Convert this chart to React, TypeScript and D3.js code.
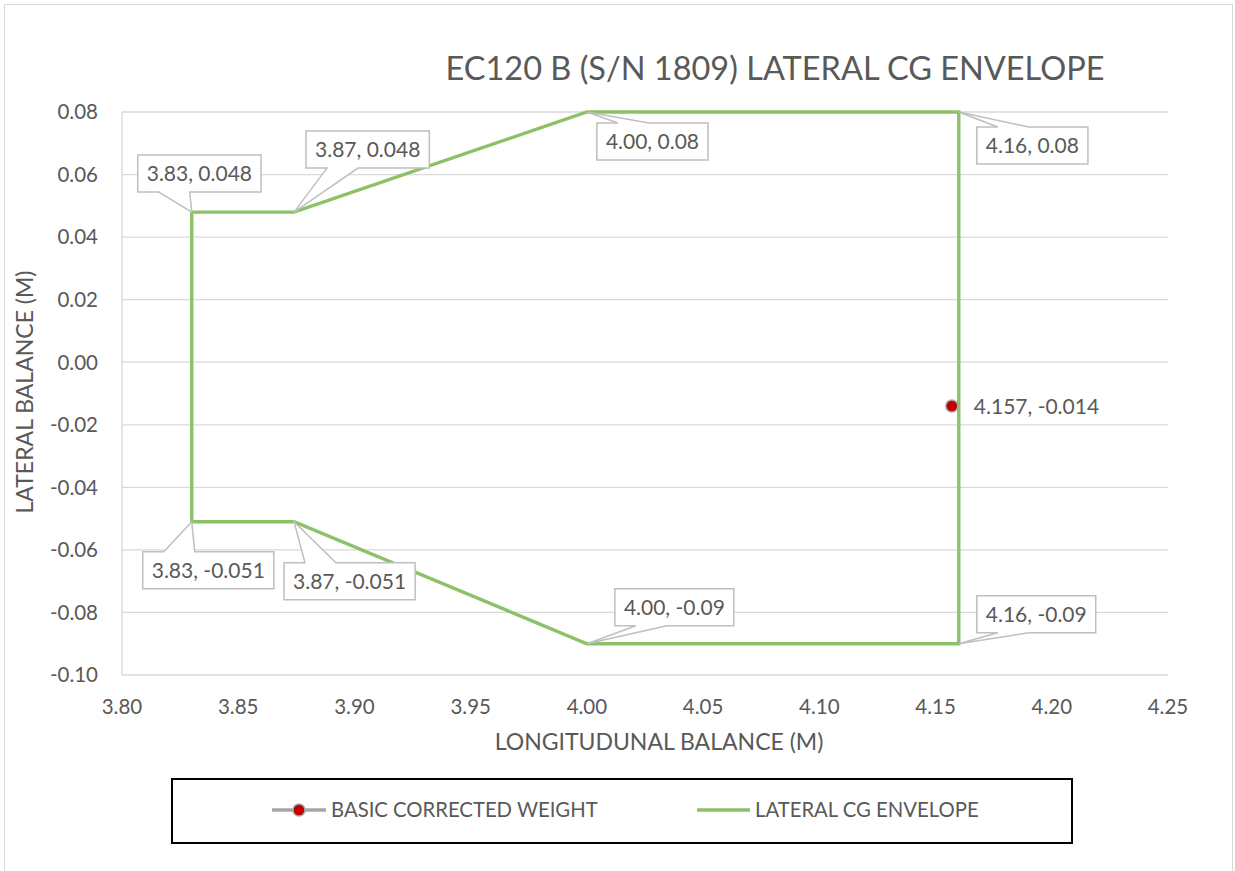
import { useEffect, useRef } from "react";
import * as d3 from "d3";

// envelope corners, closed loop
const envX = [3.83, 3.874, 4.0, 4.16, 4.16, 4.0, 3.874, 3.83, 3.83];
const envY = [0.048, 0.048, 0.08, 0.08, -0.09, -0.09, -0.051, -0.051, 0.048];

// basic corrected weight point
const cgX = [4.157];
const cgY = [-0.014];

const xTicks = [3.8, 3.85, 3.9, 3.95, 4.0, 4.05, 4.1, 4.15, 4.2, 4.25];
const yTicks = [-0.1, -0.08, -0.06, -0.04, -0.02, 0.0, 0.02, 0.04, 0.06, 0.08];

// callout placement for each envelope corner (box offset from point, pointer side)
const calloutPos = [
  { dx: -54, dy: -57, side: "bottom" },
  { dx: 12, dy: -81, side: "bottom" },
  { dx: 10, dy: 11, side: "top" },
  { dx: 18, dy: 15, side: "top" },
  { dx: 18, dy: -48, side: "bottom" },
  { dx: 28, dy: -55, side: "bottom" },
  { dx: -10, dy: 41, side: "top" },
  { dx: -49, dy: 30, side: "top" },
];

const FONT = "Lato, 'Open Sans', sans-serif";
const TXT = "#595959";
const GRID = "#d9d9d9";
const GREEN = "#8cc168";

export default function App() {
  const ref = useRef<SVGSVGElement | null>(null);

  useEffect(() => {
    drawChart();
  }, []);

  function drawChart() {
    const width = 1235,
      height = 871;
    const plot = { left: 122, right: 1168, top: 112, bottom: 675 };

    const svg = d3.select(ref.current);
    svg.selectAll("*").remove();

    svg.attr("width", width).attr("height", height);

    // chart frame
    svg.append("rect")
      .attr("x", 4.5).attr("y", 4.5)
      .attr("width", 1228).attr("height", 890)
      .attr("fill", "white")
      .attr("stroke", GRID);

    const x = d3.scaleLinear().domain([3.8, 4.25]).range([plot.left, plot.right]);
    const y = d3.scaleLinear().domain([-0.1, 0.08]).range([plot.bottom, plot.top]);

    // horizontal gridlines
    svg.append("g")
      .selectAll("line")
      .data(yTicks)
      .join("line")
      .attr("x1", plot.left).attr("x2", plot.right)
      .attr("y1", (d) => y(d)).attr("y2", (d) => y(d))
      .attr("stroke", GRID).attr("stroke-width", 1.3);

    // left axis line
    svg.append("line")
      .attr("x1", plot.left).attr("x2", plot.left)
      .attr("y1", plot.top).attr("y2", plot.bottom)
      .attr("stroke", GRID).attr("stroke-width", 1.3);

    // tick labels
    svg.append("g")
      .selectAll("text")
      .data(yTicks)
      .join("text")
      .attr("x", 98).attr("y", (d) => y(d))
      .attr("dy", "0.36em")
      .attr("text-anchor", "end")
      .attr("font-family", FONT).attr("font-size", 20.5)
      .attr("fill", TXT)
      .text((d) => d.toFixed(2));

    svg.append("g")
      .selectAll("text")
      .data(xTicks)
      .join("text")
      .attr("x", (d) => x(d)).attr("y", 714)
      .attr("text-anchor", "middle")
      .attr("font-family", FONT).attr("font-size", 20.5)
      .attr("fill", TXT)
      .text((d) => d.toFixed(2));

    // title
    svg.append("text")
      .attr("x", 775).attr("y", 80)
      .attr("text-anchor", "middle")
      .attr("font-family", FONT).attr("font-size", 32.5)
      .attr("fill", TXT)
      .text("EC120 B (S/N 1809) LATERAL CG ENVELOPE");

    // axis titles
    svg.append("text")
      .attr("x", 659).attr("y", 750)
      .attr("text-anchor", "middle")
      .attr("font-family", FONT).attr("font-size", 23)
      .attr("fill", TXT)
      .text("LONGITUDUNAL BALANCE (M)");

    svg.append("text")
      .attr("transform", "translate(33,392) rotate(-90)")
      .attr("text-anchor", "middle")
      .attr("font-family", FONT).attr("font-size", 23)
      .attr("fill", TXT)
      .text("LATERAL BALANCE (M)");

    // envelope line
    const env = envX.map((v, i) => [v, envY[i]] as [number, number]);
    svg.append("path")
      .datum(env)
      .attr("fill", "none")
      .attr("stroke", GREEN)
      .attr("stroke-width", 3.4)
      .attr("stroke-linejoin", "miter")
      .attr("d", d3.line<[number, number]>().x((d) => x(d[0])).y((d) => y(d[1])));

    // callouts for envelope corners
    const lbl = svg.append("g");
    env.slice(0, 8).forEach((d, i) => {
      const pos = calloutPos[i];
      const px = x(d[0]), py = y(d[1]);
      const g = lbl.append("g");
      const path = g.append("path")
        .attr("fill", "white")
        .attr("stroke", "#bfbfbf")
        .attr("stroke-width", 1.5);
      const t = g.append("text")
        .attr("font-family", FONT).attr("font-size", 21)
        .attr("fill", TXT)
        .attr("text-anchor", "middle")
        .text(`${d[0].toFixed(2)}, ${d[1]}`);
      const tw = (t.node() as SVGTextElement).getComputedTextLength();
      const w = tw + 18, h = 37;
      const l = px + pos.dx, tp = py + pos.dy, r = l + w, b = tp + h;
      const b1 = l + 21, b2 = l + 52;
      const p = pos.side === "bottom"
        ? `M${l},${tp}H${r}V${b}H${b2}L${px},${py}L${b1},${b}H${l}Z`
        : `M${l},${tp}H${b1}L${px},${py}L${b2},${tp}H${r}V${b}H${l}Z`;
      path.attr("d", p);
      t.attr("x", l + w / 2).attr("y", tp + h / 2).attr("dy", "0.36em");
    });

    // basic corrected weight marker
    const cg = cgX.map((v, i) => [v, cgY[i]] as [number, number]);
    svg.append("g")
      .selectAll("circle")
      .data(cg)
      .join("circle")
      .attr("cx", (d) => x(d[0])).attr("cy", (d) => y(d[1]))
      .attr("r", 6)
      .attr("fill", "#c00000")
      .attr("stroke", "#a6a6a6").attr("stroke-width", 1.5);

    svg.append("g")
      .selectAll("text")
      .data(cg)
      .join("text")
      .attr("x", (d) => x(d[0]) + 22).attr("y", (d) => y(d[1]))
      .attr("dy", "0.36em")
      .attr("font-family", FONT).attr("font-size", 21)
      .attr("fill", TXT)
      .text((d) => `${d[0]}, ${d[1]}`);

    // legend
    const lg = svg.append("g");
    lg.append("rect")
      .attr("x", 172).attr("y", 779)
      .attr("width", 900).attr("height", 64)
      .attr("fill", "white")
      .attr("stroke", "#000").attr("stroke-width", 2);
    lg.append("line")
      .attr("x1", 272).attr("x2", 326).attr("y1", 810).attr("y2", 810)
      .attr("stroke", "#a6a6a6").attr("stroke-width", 3.4);
    lg.append("circle")
      .attr("cx", 299).attr("cy", 810).attr("r", 6)
      .attr("fill", "#c00000")
      .attr("stroke", "#a6a6a6").attr("stroke-width", 1.5);
    lg.append("text")
      .attr("x", 331).attr("y", 810).attr("dy", "0.36em")
      .attr("font-family", FONT).attr("font-size", 20.3)
      .attr("fill", TXT)
      .text("BASIC CORRECTED WEIGHT");
    lg.append("line")
      .attr("x1", 697).attr("x2", 750).attr("y1", 810).attr("y2", 810)
      .attr("stroke", GREEN).attr("stroke-width", 3.4);
    lg.append("text")
      .attr("x", 755).attr("y", 810).attr("dy", "0.36em")
      .attr("font-family", FONT).attr("font-size", 20.3)
      .attr("fill", TXT)
      .text("LATERAL CG ENVELOPE");
  }

  return (
    <svg
      ref={ref}
      style={{ position: "absolute", left: 0, top: 0, display: "block" }}
    />
  );
}
